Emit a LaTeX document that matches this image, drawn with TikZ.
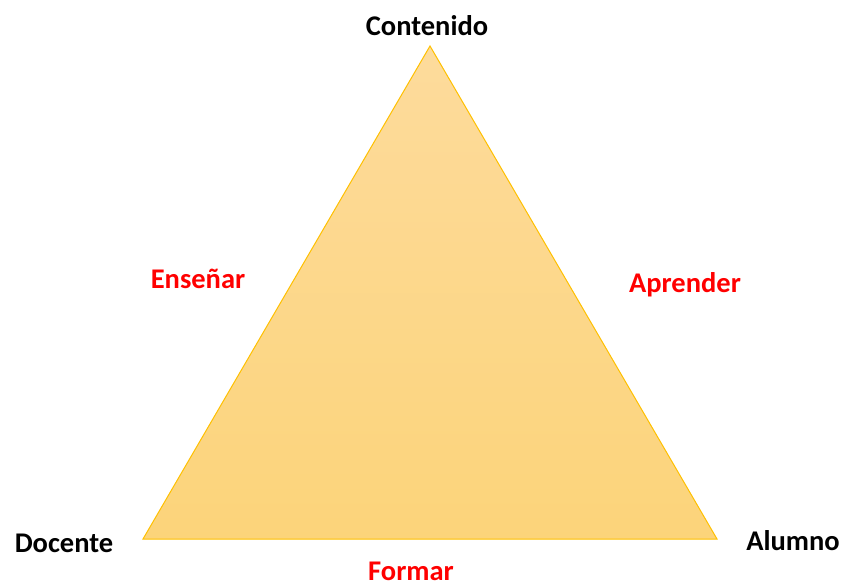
\documentclass[tikz,border=0pt]{standalone}
\usepackage{fontspec}
\setmainfont{Carlito}
\definecolor{topfill}{HTML}{FDDB9C}
\definecolor{botfill}{HTML}{FCD47A}
\definecolor{edge}{HTML}{FFC000}
\definecolor{redtxt}{HTML}{FF0000}
\begin{document}
\begin{tikzpicture}[x=1pt,y=-1pt,
  vert/.style={font=\fontsize{28.5}{32}\selectfont\bfseries,text=black,inner sep=0pt},
  act/.style={font=\fontsize{28.5}{32}\selectfont\bfseries,text=redtxt,inner sep=0pt}]
\useasboundingbox (0,0) rectangle (846,588);
\coordinate (top) at (430,46);
\coordinate (bl) at (143,539);
\coordinate (br) at (717,539);
\shade[top color=topfill,bottom color=botfill] (top) -- (bl) -- (br) -- cycle;
\draw[edge,line width=1pt,line join=miter] (top) -- (bl) -- (br) -- cycle;
\node[vert] (cont) at (427,26) {Contenido};
\node[vert] (doc) at (64,543) {Docente};
\node[vert] (alu) at (793,541) {Alumno};
\node[act] (ens) at (198,279) {Enseñar};
\node[act] (apr) at (685,285) {Aprender};
\node[act,anchor=base,text depth=0pt] (for) at (411,580) {Formar};
\end{tikzpicture}
\end{document}
